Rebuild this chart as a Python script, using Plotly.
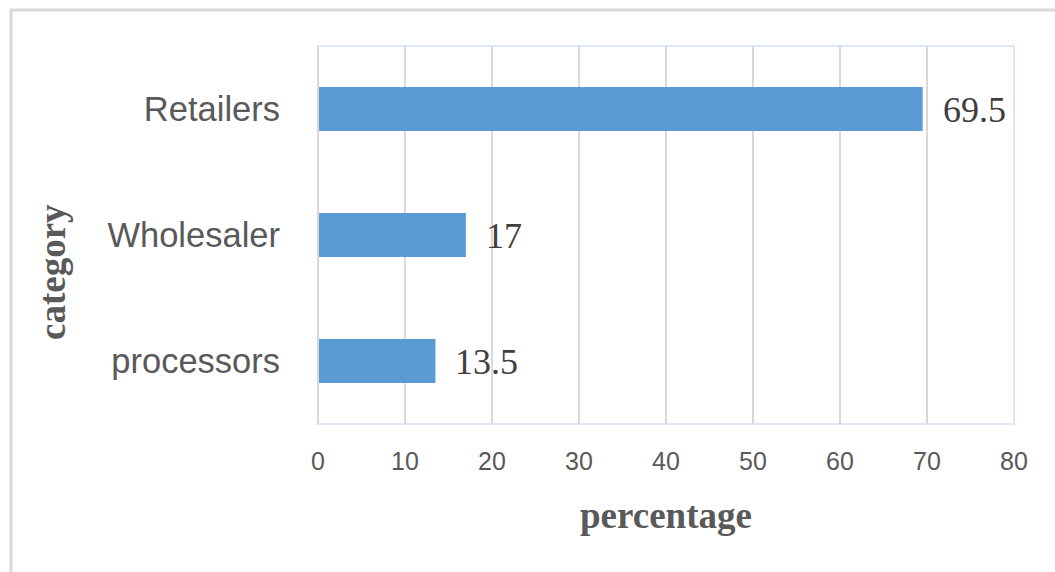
import plotly.graph_objects as go

categories = ["processors", "Wholesaler", "Retailers"]
values = [13.5, 17, 69.5]
value_labels = ["13.5", "17", "69.5"]
x_ticks = [0, 10, 20, 30, 40, 50, 60, 70, 80]

W, H = 1055, 572
L, R, T, B = 318, 1014, 46, 424
pw, ph = R - L, B - T

def px(x):
    return (x - L) / pw

def py(y):
    return (B - y) / ph

fig = go.Figure(go.Bar(
    x=values, y=categories, orientation="h",
    marker=dict(color="#5b9bd5", line=dict(width=0)),
    width=0.35,
))

annotations = [
    dict(text=lab, x=v, y=c, xref="x", yref="y", showarrow=False,
         xanchor="left", yanchor="middle", xshift=18, yshift=-1,
         font=dict(family="Liberation Serif", size=36, color="#404040"))
    for c, v, lab in zip(categories, values, value_labels)
]
annotations += [
    dict(text="<b>percentage</b>", xref="paper", yref="paper", x=px(666), y=py(515),
         showarrow=False, xanchor="center", yanchor="middle",
         font=dict(family="Liberation Serif", size=37, color="#595959")),
    dict(text="<b>category</b>", xref="paper", yref="paper", x=px(52), y=py(272),
         showarrow=False, xanchor="center", yanchor="middle", textangle=-90,
         font=dict(family="Liberation Serif", size=37, color="#595959")),
]

fig.update_layout(
    width=W, height=H,
    margin=dict(l=L, r=W - R, t=T, b=H - B),
    paper_bgcolor="white", plot_bgcolor="white",
    showlegend=False,
    xaxis=dict(range=[0, 80], tickvals=x_ticks, showgrid=True, gridcolor="#d9d9d9", gridwidth=2,
               zeroline=False, showline=False, ticks="",
               tickfont=dict(family="Liberation Sans", size=25, color="#595959"),
               ticklabelstandoff=20, fixedrange=True),
    yaxis=dict(categoryorder="array", categoryarray=categories, showgrid=False, zeroline=False,
               showline=False, ticks="",
               tickfont=dict(family="Liberation Sans", size=34.5, color="#595959"),
               ticklabelstandoff=37, fixedrange=True),
    shapes=[
        dict(type="rect", xref="paper", yref="paper", x0=0, x1=1, y0=0, y1=1,
             line=dict(color="#dce8f5", width=2), layer="below"),
        dict(type="line", xref="paper", yref="paper", x0=0, x1=0, y0=0, y1=1,
             line=dict(color="#d9d9d9", width=2)),
        dict(type="line", xref="paper", yref="paper", x0=px(11), x1=px(11), y0=py(9), y1=py(575),
             line=dict(color="#d9d9d9", width=3)),
        dict(type="line", xref="paper", yref="paper", x0=px(10), x1=px(1058), y0=py(10), y1=py(10),
             line=dict(color="#d9d9d9", width=3)),
    ],
    annotations=annotations,
)

fig.write_html("out.html")
